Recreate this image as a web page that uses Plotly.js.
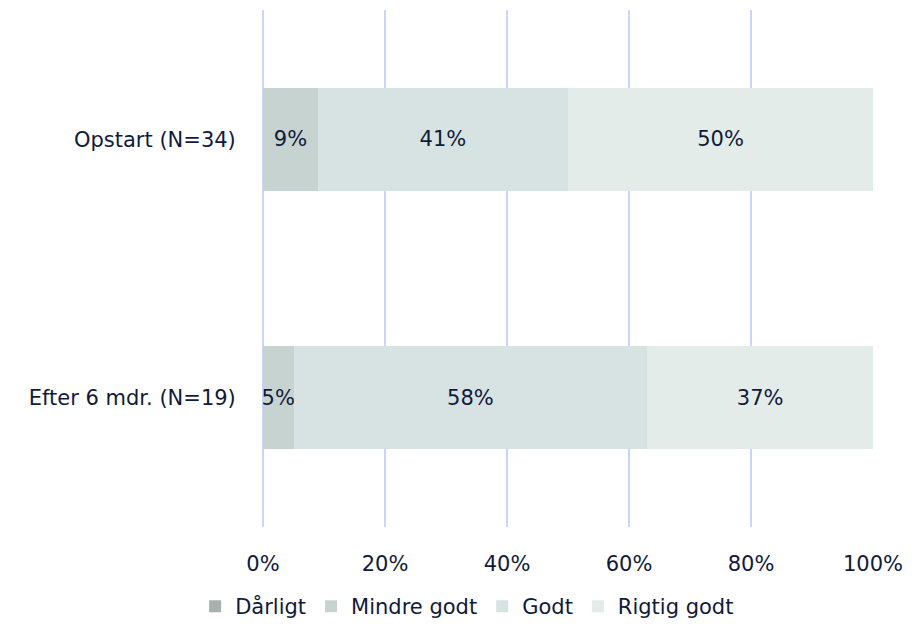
<!DOCTYPE html>
<html>
<head>
<meta charset="utf-8">
<script src="https://cdn.plot.ly/plotly-3.0.1.min.js"></script>
<style>html,body{margin:0;padding:0;background:#fff;}#chart{width:916px;height:627px;}</style>
</head>
<body>
<div id="chart"></div>
<script>
const categories = ["Opstart (N=34)", "Efter 6 mdr. (N=19)"];
const seriesNames = ["Dårligt", "Mindre godt", "Godt", "Rigtig godt"];
const darligt = [0, 0];
const mindreGodt = [9, 5];
const godt = [41, 58];
const rigtigGodt = [50, 37];
const tickVals = [0, 20, 40, 60, 80, 100];
const tickLabels = ["0%", "20%", "40%", "60%", "80%", "100%"];
const colors = ["#a9b1af", "#c6d3d1", "#d7e3e2", "#e4ecea"];

const FONT = "'DejaVu Sans', sans-serif";
const TXT = "#101a3a";
const FS = 21;
const allSeries = [darligt, mindreGodt, godt, rigtigGodt];
const traces = allSeries.map((vals, i) => ({
  type: "bar",
  orientation: "h",
  name: seriesNames[i],
  y: categories,
  x: vals,
  text: vals.map(v => v > 0 ? v + "%" : ""),
  textposition: "inside",
  insidetextanchor: "middle",
  textangle: 0,
  constraintext: "none",
  textfont: {family: FONT, size: FS, color: TXT},
  marker: {color: colors[i], line: {width: 0}},
  hoverinfo: "x+name"
}));

const layout = {
  width: 916, height: 627,
  margin: {l: 263, r: 43, t: 10, b: 100, autoexpand: false},
  barmode: "stack",
  bargap: 0.6,
  paper_bgcolor: "#fff",
  plot_bgcolor: "#fff",
  font: {family: FONT, size: FS, color: TXT},
  xaxis: {
    range: [0, 100],
    tickvals: tickVals,
    ticktext: tickLabels,
    showgrid: true,
    gridcolor: "#c9d5fb",
    gridwidth: 2,
    zeroline: true,
    zerolinecolor: "#c9d5fb",
    zerolinewidth: 2,
    showline: false,
    ticks: "outside",
    ticklen: 18,
    tickcolor: "rgba(0,0,0,0)",
    tickfont: {family: FONT, size: FS, color: TXT},
    fixedrange: true
  },
  yaxis: {
    autorange: "reversed",
    showgrid: false,
    zeroline: false,
    showline: false,
    ticks: "outside",
    ticklen: 22,
    tickcolor: "rgba(0,0,0,0)",
    tickfont: {family: FONT, size: FS, color: TXT},
    fixedrange: true
  },
  legend: {
    orientation: "h",
    x: 0.51, xref: "container", xanchor: "center",
    y: 0.0, yref: "container", yanchor: "bottom",
    font: {family: FONT, size: FS, color: TXT},
    traceorder: "normal",
    itemwidth: 30
  },
  showlegend: true
};

Plotly.newPlot("chart", traces, layout, {displayModeBar: false, staticPlot: true});
</script>
</body>
</html>
